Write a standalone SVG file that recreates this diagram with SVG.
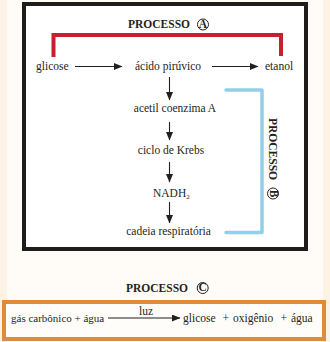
<svg xmlns="http://www.w3.org/2000/svg" width="330" height="342" viewBox="0 0 330 342">
<defs>
<style>
.t{font-family:"Liberation Serif","Times New Roman",serif;font-size:11.5px;fill:#231f20}
.c{text-anchor:middle}
.b{font-weight:bold}
.ln{stroke:#231f20;stroke-width:1.1;fill:none}
.circ{fill:none;stroke:#231f20;stroke-width:1}
</style>
<marker id="ah" markerUnits="userSpaceOnUse" markerWidth="9" markerHeight="7" refX="8" refY="3.5" orient="auto">
<path d="M0,0 L8.5,3.5 L0,7 z" fill="#231f20"/>
</marker>
</defs>
<rect x="0" y="0" width="330" height="342" fill="#fcf3e4"/>
<rect x="7" y="0" width="316" height="342" fill="#fffcf7"/>
<rect x="24" y="4" width="282" height="245" fill="#ffffff" stroke="#1e1c1d" stroke-width="4"/>
<rect x="4" y="302" width="320" height="37" fill="#fffdf9" stroke="#e08b3a" stroke-width="4"/>

<g id="processoA">
<text class="t b" x="128" y="28">PROCESSO</text>
<circle class="circ" cx="203" cy="24.5" r="5.5"/>
<text class="t b c" x="203" y="27.6" font-size="8.5">A</text>
<path d="M53.5,57 V35 H281 V56" fill="none" stroke="#c8202f" stroke-width="4"/>
</g>
<g id="processoB">
<path d="M226,90 H262 V232.5 H226" fill="none" stroke="#93cfe8" stroke-width="3.5" stroke-linecap="round" stroke-linejoin="round"/>
<g transform="translate(269,118) rotate(90)">
<text class="t b" x="0" y="0">PROCESSO</text>
<circle class="circ" cx="75.5" cy="-4" r="5.5"/>
<text class="t b c" x="75.5" y="-0.9" font-size="8.5">B</text>
</g>
</g>
<g id="processoC">
<text class="t b" x="126" y="292">PROCESSO</text>
<circle class="circ" cx="202.7" cy="288" r="5.5"/>
<text class="t b c" x="202.7" y="291.1" font-size="8.5">C</text>
</g>

<g id="glicose"><text class="t" x="36" y="70">glicose</text></g>
<g id="acido"><text class="t c" x="168" y="70">ácido pirúvico</text></g>
<g id="etanol"><text class="t" x="265" y="70">etanol</text></g>
<g id="acetil"><text class="t c" x="175" y="112">acetil coenzima A</text></g>
<g id="krebs"><text class="t c" x="171" y="154">ciclo de Krebs</text></g>
<g id="nadh"><text class="t" x="153" y="197">NADH<tspan font-size="7" dy="2">2</tspan></text></g>
<g id="cadeia"><text class="t c" x="168.5" y="235">cadeia respiratória</text></g>

<g id="equacao">
<text class="t" x="11" y="322" font-size="11" style="font-size:11px">gás carbônico + água</text>
<text class="t" x="139" y="314.5">luz</text>
<text class="t" x="183" y="322">glicose</text>
<text class="t" x="222.5" y="322">+</text>
<text class="t" x="233" y="322">oxigênio</text>
<text class="t" x="280.5" y="322">+</text>
<text class="t" x="291" y="322">água</text>
</g>

<g id="connectors">
<line class="ln" x1="108" y1="318" x2="180" y2="318" marker-end="url(#ah)"/>
<line class="ln" x1="75" y1="66.5" x2="122" y2="66.5" marker-end="url(#ah)"/>
<line class="ln" x1="212" y1="66.5" x2="258" y2="66.5" marker-end="url(#ah)"/>
<line class="ln" x1="169.5" y1="77" x2="169.5" y2="100" marker-end="url(#ah)"/>
<line class="ln" x1="169.5" y1="122" x2="169.5" y2="140" marker-end="url(#ah)"/>
<line class="ln" x1="169.5" y1="162" x2="169.5" y2="182" marker-end="url(#ah)"/>
<line class="ln" x1="169.5" y1="202" x2="169.5" y2="223" marker-end="url(#ah)"/>
</g>
</svg>
